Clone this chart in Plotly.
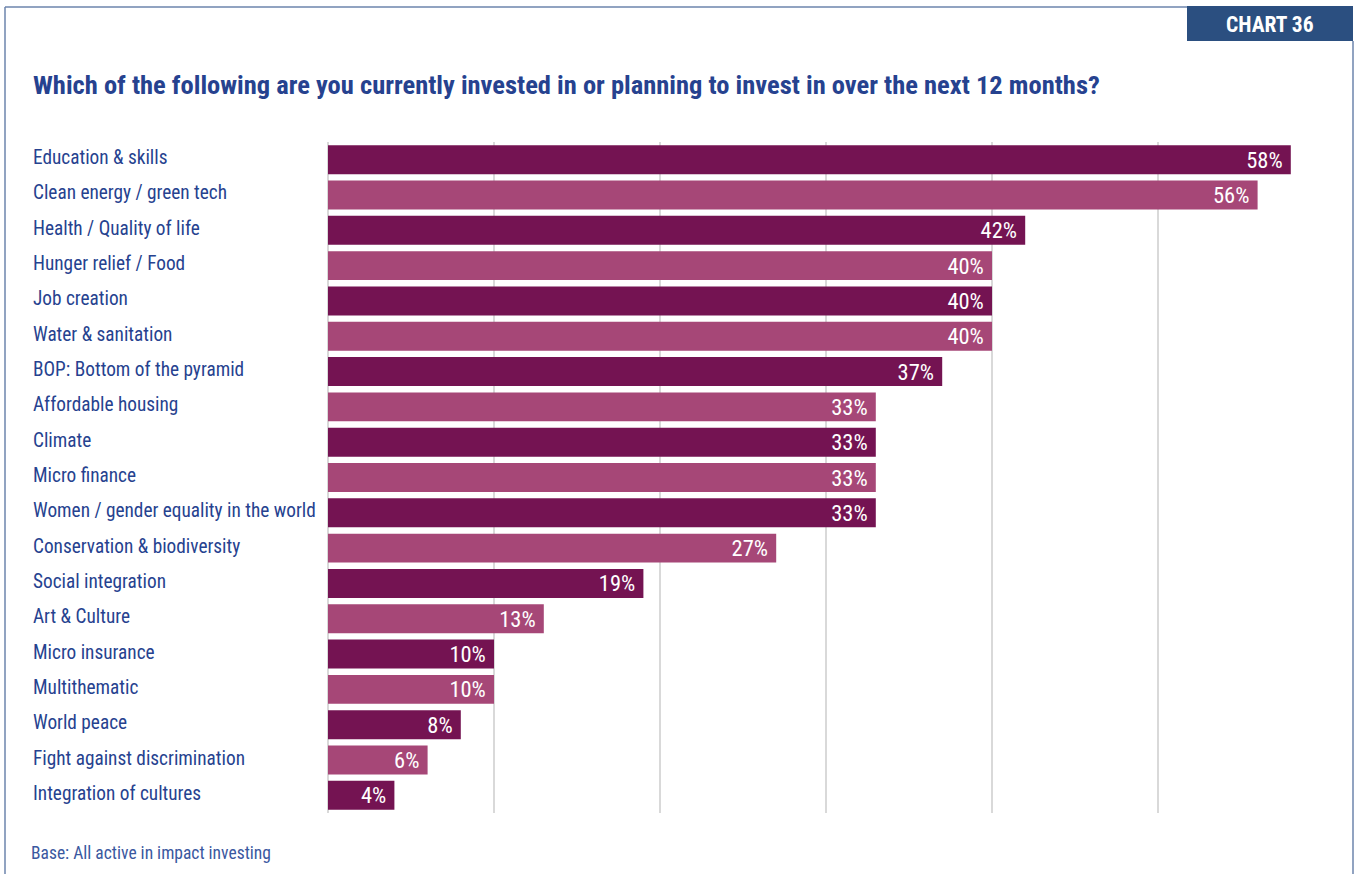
"""Chart 36: impact investing themes."""
import plotly.graph_objs as go

categories = [
    "Education & skills", "Clean energy / green tech", "Health / Quality of life",
    "Hunger relief / Food", "Job creation", "Water & sanitation",
    "BOP: Bottom of the pyramid", "Affordable housing", "Climate", "Micro finance",
    "Women / gender equality in the world", "Conservation & biodiversity",
    "Social integration", "Art & Culture", "Micro insurance", "Multithematic",
    "World peace", "Fight against discrimination", "Integration of cultures",
]
values = [58, 56, 42, 40, 40, 40, 37, 33, 33, 33, 33, 27, 19, 13, 10, 10, 8, 6, 4]
value_labels = [f"{v}%&nbsp;" for v in values]

title_text = "Which of the following are you currently invested in or planning to invest in over the next 12 months?"
footnote_text = "Base: All active in impact investing"
badge_text = "CHART 36"

W, H = 1355, 874
L, R, T, B = 328, 1324, 142, 813
FONT = "Roboto Condensed, Liberation Sans Narrow, Arial Narrow, Roboto, sans-serif"
BLUE = "#26428f"
DARK, LIGHT = "#741352", "#a64777"


def px(x):
    return (x - L) / (R - L)


def py(y):
    return (B - y) / (B - T)


colors = [DARK if i % 2 == 0 else LIGHT for i in range(len(values))]

fig = go.Figure()
fig.add_trace(go.Bar(
    x=values, y=categories, orientation="h",
    marker=dict(color=colors, line=dict(width=0)),
    width=0.82,
    text=value_labels, textposition="inside", insidetextanchor="end", textangle=0,
    textfont=dict(family=FONT, size=22.5, color="white"),
    cliponaxis=False, hoverinfo="skip",
))

annotations = []
for cat in categories:
    annotations.append(dict(
        x=px(31), xref="paper", y=cat, yref="y", yshift=2, text=cat, showarrow=False,
        xanchor="left", yanchor="middle",
        font=dict(family=FONT, size=19.3, color=BLUE),
    ))
annotations.append(dict(
    x=px(31), xref="paper", y=py(85), yref="paper", text="<b>" + title_text + "</b>",
    showarrow=False, xanchor="left", yanchor="middle",
    font=dict(family=FONT, size=26.5, color=BLUE),
))
annotations.append(dict(
    x=px(29), xref="paper", y=py(853), yref="paper", text=footnote_text,
    showarrow=False, xanchor="left", yanchor="middle",
    font=dict(family=FONT, size=17.5, color="#3a58a0"),
))
annotations.append(dict(
    x=px(1270), xref="paper", y=py(24), yref="paper", text="<b>" + badge_text + "</b>",
    showarrow=False, xanchor="center", yanchor="middle",
    font=dict(family=FONT, size=21.5, color="white"),
))

border = dict(color="#6d85ac", width=1.5)
shapes = [
    dict(type="line", xref="paper", yref="paper", x0=px(5), x1=px(1187), y0=py(7), y1=py(7), line=border),
    dict(type="line", xref="paper", yref="paper", x0=px(5), x1=px(5), y0=py(7), y1=py(880), line=border),
    dict(type="line", xref="paper", yref="paper", x0=px(1353), x1=px(1353), y0=py(41), y1=py(880), line=border),
    dict(type="rect", xref="paper", yref="paper", x0=px(1187), x1=px(1353), y0=py(41), y1=py(6),
         fillcolor="#2b4f80", line=dict(width=0), layer="below"),
]

fig.update_layout(
    width=W, height=H,
    margin=dict(l=L, r=W - R, t=T, b=H - B),
    paper_bgcolor="white", plot_bgcolor="white",
    showlegend=False,
    bargap=0.18,
    xaxis=dict(range=[0, 60], dtick=10, showgrid=True, gridcolor="#d9d9d9", gridwidth=2,
               zeroline=True, zerolinecolor="#d9d9d9", zerolinewidth=2,
               showticklabels=False, showline=False, fixedrange=True),
    yaxis=dict(autorange="reversed", showticklabels=False, showgrid=False, showline=False,
               ticks="", fixedrange=True),
    annotations=annotations,
    shapes=shapes,
    uniformtext=dict(minsize=20, mode="show"),
)

# drop the default 8px page margin so the figure sits at the window origin
fig.write_html("out.html", config={"displayModeBar": False},
               post_script="document.body.style.margin='0';")
